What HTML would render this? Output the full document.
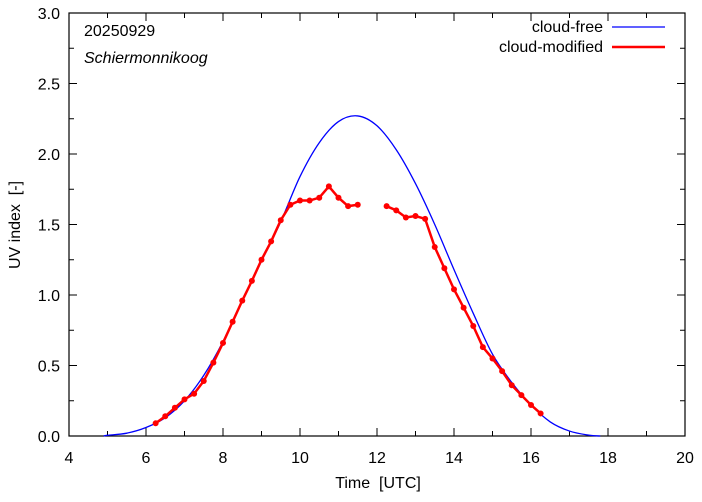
<!DOCTYPE html>
<html><head><meta charset="utf-8"><style>
body{margin:0;background:#fff}
svg text{font-family:"Liberation Sans",sans-serif;fill:#000}
</style></head><body>
<svg id="chart" width="702" height="497" xmlns="http://www.w3.org/2000/svg">
<g id="axes"></g>
<g id="series"></g>
<text x="84" y="36" font-size="16">20250929</text>
<text x="84" y="63" font-size="16" font-style="italic">Schiermonnikoog</text>
<g>
<text x="603" y="32" font-size="16" text-anchor="end">cloud-free</text>
<line x1="612" y1="27" x2="665" y2="27" stroke="#0000ff" stroke-width="1.3"/>
<text x="603" y="52" font-size="16" text-anchor="end">cloud-modified</text>
<line x1="612" y1="47" x2="665" y2="47" stroke="#ff0000" stroke-width="2.5"/>
</g>
<text x="378" y="488" font-size="16" text-anchor="middle" xml:space="preserve">Time  [UTC]</text>
<text transform="translate(20,225) rotate(-90)" font-size="16" text-anchor="middle" xml:space="preserve">UV index  [-]</text>
</svg>
<script>
const clearTimes=[4.9,5.0,5.5,6.0,6.5,7.0,7.5,8.0,8.5,9.0,9.5,10.0,10.5,11.0,11.5,12.0,12.5,13.0,13.5,14.0,14.5,15.0,15.5,16.0,16.5,17.0,17.5,17.8];
const clearValues=[0,0.005,0.02,0.06,0.13,0.25,0.43,0.67,0.96,1.24,1.52,1.84,2.08,2.23,2.27,2.20,2.03,1.79,1.50,1.18,0.87,0.58,0.38,0.22,0.10,0.035,0.006,0];
const cloudTimes1=[6.25,6.5,6.75,7.0,7.25,7.5,7.75,8.0,8.25,8.5,8.75,9.0,9.25,9.5,9.75,10.0,10.25,10.5,10.75,11.0,11.25,11.5];
const cloudValues1=[0.09,0.14,0.20,0.26,0.30,0.39,0.52,0.66,0.81,0.96,1.10,1.25,1.38,1.53,1.64,1.67,1.67,1.69,1.77,1.69,1.63,1.64];
const cloudTimes2=[12.25,12.5,12.75,13.0,13.25,13.5,13.75,14.0,14.25,14.5,14.75,15.0,15.25,15.5,15.75,16.0,16.25];
const cloudValues2=[1.63,1.60,1.55,1.56,1.54,1.34,1.19,1.04,0.91,0.78,0.63,0.55,0.46,0.36,0.29,0.22,0.16];
const xTicks=[4,6,8,10,12,14,16,18,20];
const yTicks=[0.0,0.5,1.0,1.5,2.0,2.5,3.0];
const L=69,R=685,T=13,B=436;
const sx=v=>L+(v-4)/16*(R-L);
const sy=v=>B-v/3*(B-T);
const NS='http://www.w3.org/2000/svg';
function mk(tag,attrs,parent){const e=document.createElementNS(NS,tag);for(const k in attrs)e.setAttribute(k,attrs[k]);parent.appendChild(e);return e;}
const ax=document.getElementById('axes'),se=document.getElementById('series');
for(let x=4;x<=20;x+=1){
 const len=(x%2===0)?8:5;
 mk('line',{x1:sx(x),y1:B,x2:sx(x),y2:B-len,stroke:'#000'},ax);
 mk('line',{x1:sx(x),y1:T,x2:sx(x),y2:T+len,stroke:'#000'},ax);
}
for(let y=0;y<=3.001;y+=0.25){
 const len=(Math.round(y*4)%2===0)?8:5;
 mk('line',{x1:L,y1:sy(y),x2:L+len,y2:sy(y),stroke:'#000'},ax);
 mk('line',{x1:R,y1:sy(y),x2:R-len,y2:sy(y),stroke:'#000'},ax);
}
xTicks.forEach(v=>{const t=mk('text',{x:sx(v),y:B+27,'font-size':16,'text-anchor':'middle'},ax);t.textContent=v;

});
yTicks.forEach(v=>{const t=mk('text',{x:L-9,y:sy(v)+6,'font-size':16,'text-anchor':'end'},ax);t.textContent=v.toFixed(1);

});
mk('rect',{x:L,y:T,width:R-L,height:B-T,fill:'none',stroke:'#000','stroke-width':1.2},ax);
const P=clearTimes.map((t,i)=>[sx(t),sy(clearValues[i])]);
let d='M'+P[0][0]+','+P[0][1];
for(let i=0;i<P.length-1;i++){const p0=P[Math.max(0,i-1)],p1=P[i],p2=P[i+1],p3=P[Math.min(P.length-1,i+2)];
 d+=' C'+(p1[0]+(p2[0]-p0[0])/6)+','+(p1[1]+(p2[1]-p0[1])/6)+' '+(p2[0]-(p3[0]-p1[0])/6)+','+(p2[1]-(p3[1]-p1[1])/6)+' '+p2[0]+','+p2[1];}
const cf=mk('path',{d:d,fill:'none',stroke:'#0000ff','stroke-width':1.3},se);


[[cloudTimes1,cloudValues1],[cloudTimes2,cloudValues2]].forEach(([ts,vs],k)=>{
 const pl=mk('polyline',{points:ts.map((t,i)=>sx(t)+','+sy(vs[i])).join(' '),fill:'none',stroke:'#ff0000','stroke-width':2.5},se);
 
 
 ts.forEach((t,i)=>{const c=mk('circle',{cx:sx(t),cy:sy(vs[i]),r:3,fill:'#ff0000'},se);
  
  });
});
</script>
</body></html>
